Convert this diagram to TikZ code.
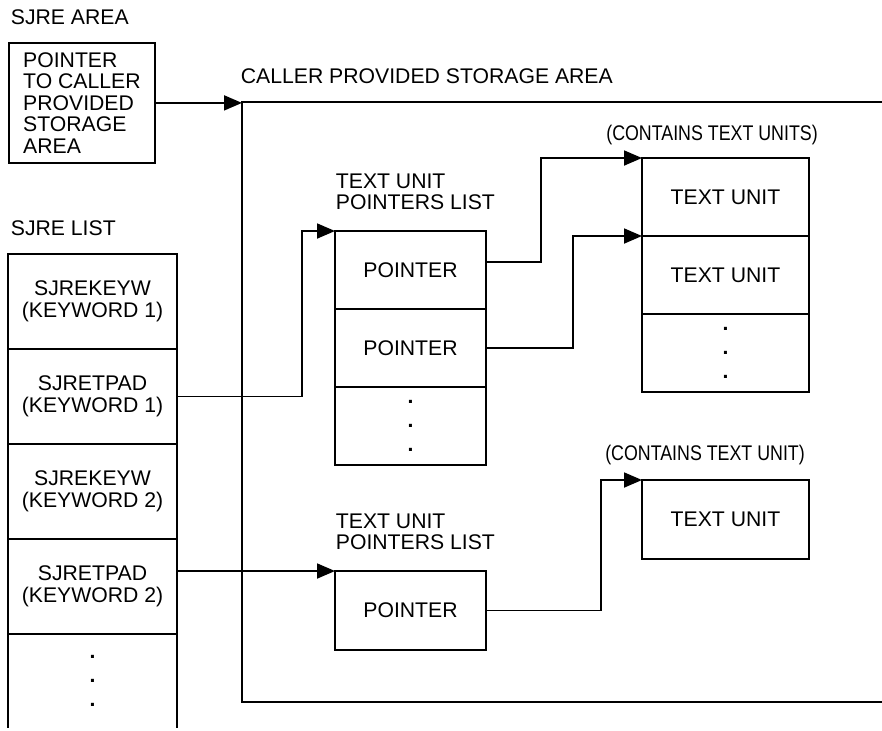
\documentclass[tikz,border=0pt]{standalone}
\usepackage{fontspec}
\setmainfont{Liberation Sans}
\newfontfamily\condfont[FakeStretch=0.84]{Liberation Sans}
\usetikzlibrary{arrows.meta,positioning}

\begin{document}
\begin{tikzpicture}[x=0.5pt, y=-0.5pt, line width=0.9pt,
  >={Triangle[length=9pt,width=7.5pt]},
  font=\fontsize{10.6}{10.8}\selectfont,
  sjrecell/.style={draw, outer sep=0pt, minimum width=84.5pt, minimum height=47.5pt, inner sep=0pt, align=center},
  ptrcell/.style={draw, outer sep=0pt, minimum width=75.5pt, minimum height=39pt, inner sep=0pt, align=center},
  unitcell/.style={draw, outer sep=0pt, minimum width=83.5pt, minimum height=39pt, inner sep=0pt, align=center},
  lbl/.style={inner sep=0pt, align=left},
  condlbl/.style={inner sep=0pt, font=\fontsize{10.6}{10.8}\condfont},
  dots/.style={font=\fontsize{10.6}{12}\selectfont\bfseries}]
  \useasboundingbox (0,0) rectangle (882,730);

  %% SJRE area
  \node[lbl, anchor=base west] (arealbl) at (10,24) {SJRE AREA};
  \node[draw, minimum width=73pt, minimum height=60pt, inner sep=0pt,
    align=left, anchor=north west] (area) at (8,42)
    {POINTER\\TO CALLER\\PROVIDED\\STORAGE\\AREA};

  %% Caller provided storage area (open on the right)
  \coordinate (stor) at (242,102);
  \node[lbl, anchor=base west] (storlbl) at (240,83) {CALLER PROVIDED STORAGE AREA};
  \draw (882,102) -- (stor) -- (242,702) -- (882,702);

  %% SJRE list
  \node[lbl, anchor=base west] (listlbl) at (10,235) {SJRE LIST};
  \node[sjrecell, anchor=north west] (k1) at (8,254) {SJREKEYW\\(KEYWORD 1)};
  \node[sjrecell, below=0pt of k1] (k2) {SJRETPAD\\(KEYWORD 1)};
  \node[sjrecell, below=0pt of k2] (k3) {SJREKEYW\\(KEYWORD 2)};
  \node[sjrecell, below=0pt of k3] (k4) {SJRETPAD\\(KEYWORD 2)};
  \node[sjrecell, dots, draw=none, minimum height=47pt, below=0pt of k4] (k5) {.\\.\\.};
  \draw (k5.north west) -- (k5.south west) (k5.north east) -- (k5.south east);

  %% Text unit pointers lists
  \node[ptrcell, anchor=north west] (p1a) at (335,231) {POINTER};
  \node[ptrcell, below=0pt of p1a] (p1b) {POINTER};
  \node[ptrcell, dots, below=0pt of p1b] (p1c) {.\\.\\.};
  \node[lbl, above right=10pt and 0pt of p1a.north west] (p1lbl) {TEXT UNIT\\POINTERS LIST};

  \node[ptrcell, minimum height=39.5pt, anchor=north west] (p2) at (335,571) {POINTER};
  \node[lbl, above right=10pt and 0pt of p2.north west] (p2lbl) {TEXT UNIT\\POINTERS LIST};

  %% Text units
  \node[unitcell, anchor=north west] (t1a) at (642,158) {TEXT UNIT};
  \node[unitcell, below=0pt of t1a] (t1b) {TEXT UNIT};
  \node[unitcell, dots, below=0pt of t1b] (t1c) {.\\.\\.};
  \node[condlbl, anchor=base] (t1lbl) at (712,140) {(CONTAINS TEXT UNITS)};

  \node[unitcell, minimum height=39.5pt, anchor=north west] (t2) at (642,480) {TEXT UNIT};
  \node[condlbl, anchor=base] (t2lbl) at (705,460) {(CONTAINS TEXT UNIT)};

  %% Pointers
  \draw[->] (area.east) -- (area.east -| stor);
  \draw[->] (k2.east) -- ++(125,0) |- (p1a.north west);
  \draw[->] ([yshift=4pt]p1a.east) -- ++(55,0) |- (t1a.north west);
  \draw[->] (p1b.east) -- ++(87,0) |- (t1b.north west);
  \draw[->] (k4.east |- p2.north west) -- (p2.north west);
  \draw[->] (p2.east) -- ++(115,0) |- (t2.north west);
\end{tikzpicture}
\end{document}
